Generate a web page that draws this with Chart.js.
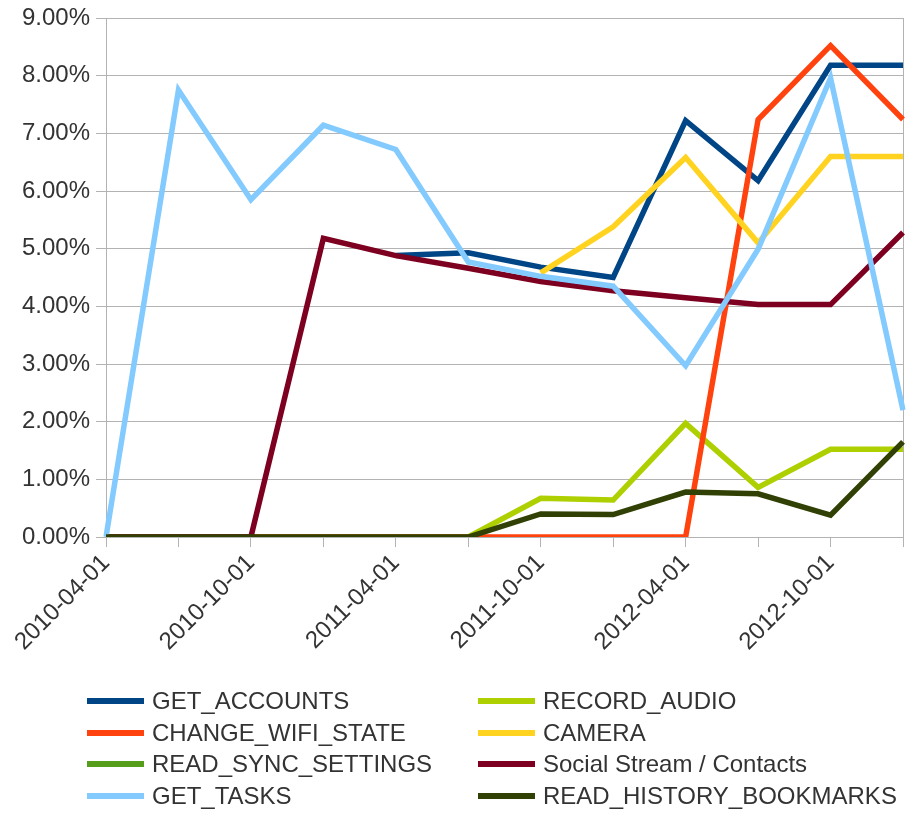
<!DOCTYPE html>
<html>
<head>
<meta charset="utf-8">
<script src="https://cdn.jsdelivr.net/npm/chart.js@4"></script>
<style>
  body { margin: 0; background: #fff; }
  #wrap { position: relative; width: 914px; height: 817px; }
  #chart { position: absolute; left: 0; top: 0; }
  .item { position: absolute; height: 32px; display: flex; align-items: center;
          font-family: "Liberation Sans", Arial, sans-serif; font-size: 24px; color: #333; white-space: nowrap; }
  .item span.swatch { display: inline-block; width: 57px; height: 6px; margin-right: 8px; }
</style>
</head>
<body>
<div id="wrap">
  <canvas id="chart" width="914" height="817"></canvas>
  <div id="legend"></div>
</div>
<script>
// Dados (porcentagem)
const labels = ["2010-04-01", "2010-07-01", "2010-10-01", "2011-01-01", "2011-04-01", "2011-07-01",
                "2011-10-01", "2012-01-01", "2012-04-01", "2012-07-01", "2012-10-01", "2013-01-01"];

const getAccounts   = [null, null, null, null, 4.88, 4.93, 4.68, 4.50, 7.22, 6.18, 8.18, 8.18];
const recordAudio   = [0, 0, 0, 0, 0, 0, 0.67, 0.64, 1.97, 0.86, 1.52, 1.52];
const changeWifi    = [0, 0, 0, 0, 0, 0, 0, 0, 0, 7.24, 8.52, 7.24];
const camera        = [null, null, null, null, null, null, 4.58, 5.38, 6.58, 5.10, 6.60, 6.60];
const readSync      = [null, null, null, null, null, null, null, null, null, null, null, null];
const socialStream  = [0, 0, 0, 5.18, 4.88, 4.66, 4.43, 4.27, 4.15, 4.03, 4.03, 5.28];
const getTasks      = [0, 7.75, 5.85, 7.14, 6.72, 4.77, 4.52, 4.35, 2.97, 4.99, 7.96, 2.20];
const readHistory   = [0, 0, 0, 0, 0, 0, 0.40, 0.39, 0.78, 0.75, 0.38, 1.65];

const yTicks = [0, 1, 2, 3, 4, 5, 6, 7, 8, 9];

// Series (ordem da legenda, linha por linha)
const seriesNames  = ["GET_ACCOUNTS", "RECORD_AUDIO", "CHANGE_WIFI_STATE", "CAMERA",
                      "READ_SYNC_SETTINGS", "Social Stream / Contacts", "GET_TASKS", "READ_HISTORY_BOOKMARKS"];
const seriesValues = [getAccounts, recordAudio, changeWifi, camera, readSync, socialStream, getTasks, readHistory];
const seriesColors = ["#004586", "#aecf00", "#ff420e", "#ffd320", "#579d1c", "#7e0021", "#83caff", "#314004"];

const gridColor = "#b3b3b3";
const textColor = "#333";
const font = { family: "'Liberation Sans', Arial, sans-serif", size: 24 };

const datasets = seriesNames.map((name, i) => ({
  label: name,
  data: seriesValues[i],
  borderColor: seriesColors[i],
  backgroundColor: seriesColors[i],
  borderWidth: 5.5,
  pointRadius: 0,
  tension: 0,
  spanGaps: false,
  order: seriesNames.length - 1 - i
}));

const MyChart = new Chart("chart", {
  type: "line",
  data: { labels: labels, datasets: datasets },
  options: {
    responsive: false,
    animation: false,
    devicePixelRatio: 1,
    layout: { padding: { top: 18, right: 11, left: 0, bottom: 0 } },
    plugins: { legend: { display: false }, tooltip: { enabled: false } },
    scales: {
      x: {
        grid: { drawOnChartArea: false, drawTicks: true, tickLength: 10, color: gridColor },
        border: { display: false },
        ticks: {
          autoSkip: false, maxRotation: 45, minRotation: 45, padding: 2,
          color: textColor, font: font,
          callback: function(v, i) { return i % 2 === 0 ? labels[i] : ""; }
        },
        afterFit: function(scale) {
          scale.height = 280;
          scale.paddingLeft = 0;
          scale.paddingRight = 0;
        }
      },
      y: {
        min: 0, max: 9,
        afterBuildTicks: function(scale) { scale.ticks = yTicks.map(v => ({ value: v })); },
        grid: { color: gridColor, tickLength: 10 },
        border: { display: true, color: gridColor },
        ticks: {
          color: textColor, font: font, padding: 6,
          callback: function(v) { return v.toFixed(2) + "%"; }
        },
        afterFit: function(scale) {
          scale.width = 106;
          scale.paddingTop = 0;
          scale.paddingBottom = 0;
        }
      },
      y2: {
        position: "right", min: 0, max: 9,
        grid: { drawOnChartArea: false, drawTicks: false },
        border: { display: true, color: gridColor },
        ticks: { display: false },
        afterFit: function(scale) { scale.width = 0; }
      }
    }
  }
});

// Legenda em duas colunas
const legend = document.querySelector("#legend");
const colX = [87, 478];
const rowY = [701, 732.5, 764, 795.5];
seriesNames.forEach((name, i) => {
  const item = document.createElement("div");
  item.className = "item";
  item.style.left = colX[i % 2] + "px";
  item.style.top = (rowY[Math.floor(i / 2)] - 16) + "px";
  item.innerHTML = `<span class="swatch" style="background:${seriesColors[i]}"></span>${name}`;
  legend.appendChild(item);
});
</script>
</body>
</html>
